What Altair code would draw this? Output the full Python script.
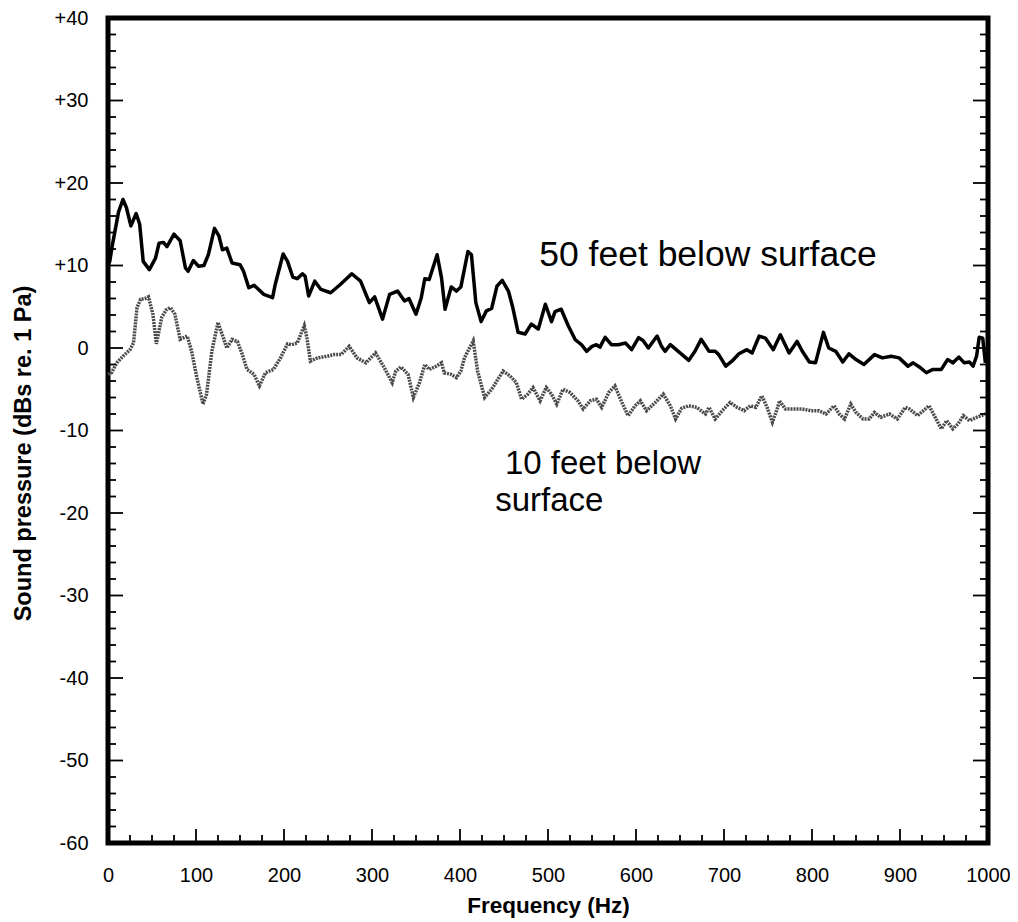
import altair as alt
import pandas as pd

# 50 feet below surface (solid line)
freq_50 = [0, 2, 5, 8, 12, 17, 21, 26, 32, 36, 40, 47, 54, 58, 63, 67, 75, 82, 88, 91,
           97, 103, 109, 114, 121, 126, 130, 135, 141, 150, 154, 160, 166, 177, 187, 190, 199, 204, 210, 215,
           221, 224, 228, 235, 242, 253, 264, 277, 287, 297, 303, 312, 320, 329, 337, 342, 350, 356, 360, 365,
           374, 379, 383, 390, 396, 401, 409, 413, 418, 424, 430, 436, 442, 448, 455, 460, 466, 474, 481, 489,
           497, 504, 508, 515, 523, 531, 538, 544, 550, 555, 559, 565, 572, 580, 588, 595, 603, 608, 614, 624,
           629, 633, 639, 648, 660, 667, 674, 683, 690, 694, 702, 709, 717, 726, 732, 740, 747, 756, 764, 774,
           783, 789, 797, 804, 813, 819, 827, 835, 842, 850, 859, 871, 880, 890, 899, 909, 915, 922, 930, 937,
           947, 954, 960, 967, 973, 979, 983, 987, 990, 994, 997]
db_50 = [10.0, 10.5, 12.5, 14.2, 16.5, 18.0, 17.0, 14.8, 16.3, 15.0, 10.5, 9.5, 10.9, 12.7, 12.8, 12.3, 13.8, 13.0, 9.7, 9.3,
         10.6, 9.9, 10.0, 11.3, 14.5, 13.6, 11.9, 12.1, 10.3, 10.1, 9.3, 7.3, 7.6, 6.5, 6.1, 7.7, 11.4, 10.5, 8.6, 8.4,
         9.0, 8.7, 6.3, 8.1, 7.1, 6.7, 7.7, 9.0, 8.1, 5.5, 6.2, 3.5, 6.5, 6.9, 5.7, 6.0, 4.1, 6.1, 8.4, 8.3,
         11.3, 8.5, 4.7, 7.4, 6.9, 7.4, 11.7, 11.3, 5.5, 3.2, 4.5, 4.8, 7.5, 8.2, 6.9, 4.9, 1.9, 1.7, 2.9, 2.3,
         5.3, 3.2, 4.4, 4.7, 2.7, 1.0, 0.4, -0.4, 0.2, 0.4, 0.1, 1.3, 0.4, 0.4, 0.6, -0.2, 1.25, 0.9, 0.0, 1.45,
         0.2, -0.4, 0.4, -0.4, -1.5, -0.4, 1.05, -0.4, -0.4, -0.8, -2.2, -1.6, -0.7, -0.2, -0.6, 1.45, 1.2, -0.2, 1.6, -0.6,
         0.8, -0.4, -1.7, -1.8, 1.9, 0.0, -0.4, -1.7, -0.7, -1.4, -2.0, -0.8, -1.2, -1.0, -1.2, -2.2, -1.8, -2.3, -3.0, -2.6,
         -2.6, -1.4, -1.8, -1.1, -1.8, -1.7, -2.2, -1.0, 1.3, 1.2, -1.8]

# 10 feet below surface (hatched grey line)
freq_10 = [0, 4, 10, 17, 25, 29, 33, 37, 42, 46, 51, 55, 61, 66, 71, 76, 82, 90, 95, 101,
           108, 112, 118, 125, 131, 135, 141, 147, 152, 158, 166, 172, 179, 188, 196, 204, 209, 215, 223, 226,
           230, 238, 249, 257, 265, 274, 283, 293, 304, 314, 323, 327, 333, 341, 347, 354, 360, 365, 373, 379,
           382, 390, 396, 401, 405, 415, 420, 428, 436, 443, 449, 457, 464, 470, 477, 483, 491, 498, 504, 510,
           517, 525, 534, 540, 548, 555, 561, 569, 576, 584, 591, 599, 605, 612, 622, 631, 639, 645, 652, 660,
           669, 679, 683, 690, 698, 707, 715, 723, 730, 736, 743, 749, 755, 761, 763, 770, 780, 789, 799, 808,
           816, 825, 831, 837, 844, 850, 858, 865, 871, 878, 888, 897, 906, 911, 920, 933, 941, 947, 953, 960,
           966, 972, 979, 987, 992, 997]
db_10 = [-3.2, -3.0, -1.8, -1.0, -0.2, 0.6, 4.9, 5.9, 6.0, 6.2, 4.1, 0.5, 3.7, 4.6, 4.9, 4.1, 1.05, 1.45, -0.4, -3.6,
         -6.8, -5.6, -0.4, 3.1, 1.25, 0.0, 1.05, 0.8, -0.6, -2.6, -3.2, -4.6, -3.0, -2.6, -1.2, 0.5, 0.4, 0.6, 2.7, 1.25,
         -1.6, -1.2, -1.0, -0.8, -0.8, 0.2, -1.2, -1.8, -0.6, -2.4, -4.2, -2.8, -2.3, -3.2, -6.0, -4.2, -2.0, -2.6, -2.2, -1.8,
         -3.0, -3.2, -3.6, -2.8, -1.2, 0.85, -2.8, -6.0, -5.0, -3.8, -2.8, -3.4, -4.2, -6.2, -5.6, -4.8, -6.4, -4.8, -5.6, -6.8,
         -5.0, -5.4, -6.4, -7.4, -6.4, -6.2, -7.2, -5.4, -4.6, -6.6, -8.2, -7.0, -6.4, -7.6, -6.6, -5.6, -7.0, -8.6, -7.3, -7.0,
         -7.2, -8.0, -7.2, -8.6, -7.6, -6.6, -7.2, -7.6, -7.0, -7.2, -5.8, -7.2, -9.0, -7.2, -6.4, -7.4, -7.4, -7.4, -7.6, -7.6,
         -8.0, -7.0, -8.0, -8.6, -6.8, -7.8, -8.6, -8.6, -7.8, -8.4, -8.0, -8.6, -7.2, -7.4, -8.2, -7.0, -8.6, -9.8, -8.8, -9.8,
         -9.2, -8.2, -8.8, -8.4, -8.2, -8.0]

# annotation labels
label_text = ["50 feet below surface", "10 feet below", "surface"]
label_freq = [490, 451, 440]
label_db = [9.9, -15.3, -19.8]
label_size = [35.5, 33, 33]

# axis tick values
x_major = list(range(0, 1001, 100))
x_minor = [v for v in range(0, 1001, 25) if v % 100 != 0]
y_major = list(range(-60, 41, 10))
y_minor = [v for v in range(-60, 41, 2) if v % 10 != 0]

W, H = 880, 825
FONT = "Liberation Sans"

df50 = pd.DataFrame({"f": freq_50, "db": db_50})
df10 = pd.DataFrame({"f": freq_10, "db": db_10})
dflab = pd.DataFrame({"text": label_text, "f": label_freq, "db": label_db, "size": label_size})

xscale = alt.Scale(domain=[0, 1000], nice=False, zero=False)
yscale = alt.Scale(domain=[-60, 40], nice=False, zero=False)

xaxis = alt.Axis(values=x_major, format="d", ticks=False, domain=False, grid=False,
                 labelFontSize=20, labelFont=FONT, labelColor="black", labelPadding=22,
                 labelFlush=False,
                 title="Frequency (Hz)", titleFont=FONT, titleFontSize=22.5, titleFontWeight="bold",
                 titleColor="black", titleY=62, titleBaseline="middle")
yaxis = alt.Axis(values=y_major, ticks=False, domain=False, grid=False,
                 labelFontSize=20, labelFont=FONT, labelColor="black", labelPadding=20,
                 labelFlush=False,
                 labelExpr="(datum.value > 0 ? '+' : (datum.value < 0 ? '-' : '')) + abs(datum.value)",
                 title="Sound pressure (dBs re. 1 Pa)", titleFont=FONT, titleFontSize=23.5,
                 titleFontWeight="bold", titleColor="black", titleAngle=-90,
                 titleX=-85, titleY=435, titleAlign="center", titleBaseline="middle")

line50 = alt.Chart(df50).mark_line(color="black", strokeWidth=3.5, strokeJoin="round").encode(
    x=alt.X("f:Q", scale=xscale, axis=xaxis),
    y=alt.Y("db:Q", scale=yscale, axis=yaxis),
)
line10 = alt.Chart(df10).mark_line(color="#4a4a4a", strokeWidth=3.5, strokeDash=[2, 1]).encode(
    x=alt.X("f:Q", scale=xscale),
    y=alt.Y("db:Q", scale=yscale),
)
labels = alt.Chart(dflab).mark_text(align="left", baseline="alphabetic", font=FONT,
                                    color="black").encode(
    x=alt.X("f:Q", scale=xscale),
    y=alt.Y("db:Q", scale=yscale),
    text="text:N",
    size=alt.Size("size:Q", scale=None, legend=None),
)

def xticks(vals, length):
    return alt.Chart(pd.DataFrame({"f": vals})).mark_rule(color="black", strokeWidth=1.8).encode(
        x=alt.X("f:Q", scale=xscale), y=alt.value(H), y2=alt.value(H - length))

def yticks(vals, x0, x1):
    return alt.Chart(pd.DataFrame({"db": vals})).mark_rule(color="black", strokeWidth=1.8).encode(
        y=alt.Y("db:Q", scale=yscale), x=alt.value(x0), x2=alt.value(x1))

ticks = [
    xticks(x_major, 14), xticks(x_minor, 8),
    yticks(y_major, 0, 15), yticks(y_minor, 0, 8),
    yticks(y_major, W, W - 15), yticks(y_minor, W, W - 8),
]

chart = alt.layer(line50, line10, labels, *ticks).properties(
    width=W, height=H,
    autosize=alt.AutoSizeParams(type="none"),
    padding={"left": 100, "top": 10, "right": 22, "bottom": 75},
).configure_view(stroke="black", strokeWidth=5)

chart.save("out.html", embed_options={"renderer": "svg", "actions": False})
